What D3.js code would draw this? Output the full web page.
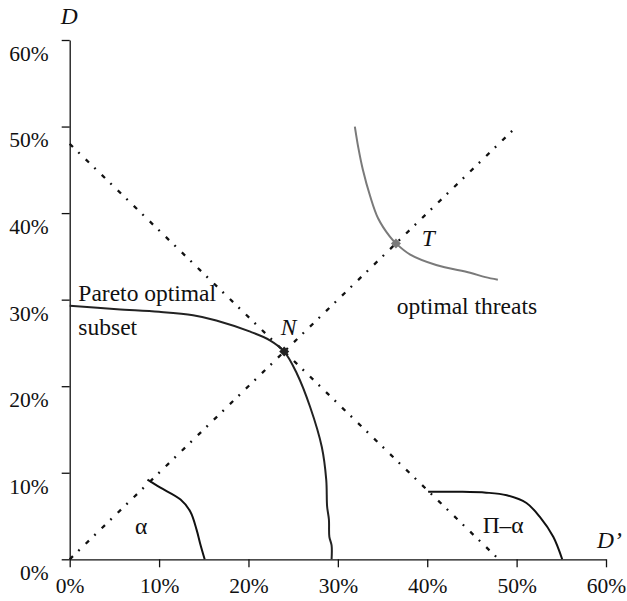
<!DOCTYPE html>
<html>
<head>
<meta charset="utf-8">
<script src="https://cdn.jsdelivr.net/npm/d3@7"></script>
<style>
  html, body { margin: 0; padding: 0; background: #fff; }
  svg { display: block; }
  text { font-family: "Liberation Serif", "Times New Roman", "DejaVu Serif", serif; fill: #111; }
</style>
</head>
<body>
<svg id="chart" width="627" height="601"></svg>
<script>
// ---- data (percent units) ----
const xTicks = [0, 10, 20, 30, 40, 50, 60];
const yTicks = [0, 10, 20, 30, 40, 50, 60];
const tickLabel = d => d + "%";

const diagonal = [[0, 0], [50, 50]];
const antiDiagonal = [[0, 48], [48, 0]];

const alphaCurve = [[8.7, 9.2], [10.1, 8.3], [12.4, 6.9], [13.5, 5.5], [14.2, 3.4], [14.6, 1.8], [15.1, 0]];
const piAlphaCurve = [[40.1, 7.8], [43.5, 7.8], [46.6, 7.7], [48.9, 7.4], [51.1, 6.5], [52.6, 4.9], [54.1, 2.6], [55.1, 0]];
const paretoCurve = [[0, 29.3], [5.3, 28.9], [10, 28.6], [13.8, 28.2], [16.4, 27.6], [20.2, 26.3], [22.4, 25.3], [24, 24],
                     [25.4, 21.5], [26.9, 17.6], [28.2, 13.0], [28.7, 9.2], [28.8, 6.1], [29.0, 4.6], [29.05, 2.6], [29.3, 1.6], [29.3, 0]];
const threatCurve = [[31.9, 50], [32.3, 47.5], [32.8, 45], [33.6, 42], [34.5, 39.4], [35.8, 37.3], [36.5, 36.5],
                     [38.1, 35.2], [41, 34.0], [44.8, 33.1], [46.5, 32.6], [47.9, 32.3]];
const pointN = [24, 24];
const pointT = [36.5, 36.5];

const labels = [
  { text: "Pareto optimal", x: 0.97, y: 29.8, italic: false },
  { text: "subset", x: 0.97, y: 25.9, italic: false },
  { text: "N", x: 23.6, y: 25.9, italic: true },
  { text: "T", x: 39.4, y: 36.2, italic: true },
  { text: "optimal threats", x: 36.6, y: 28.3, italic: false },
  { text: "α", x: 7.3, y: 2.9, italic: false },
  { text: "Π–α", x: 46.2, y: 3.0, italic: false },
  { text: "D’", x: 59.0, y: 1.35, italic: true },
  { text: "D", x: -1.0, y: 61.9, italic: true }
];

// ---- drawing ----
const svg = d3.select("#chart");
const FS = 21.5;
const LFS = 23.5;
const FONT = '"Liberation Serif", "Times New Roman", serif';
const x = d3.scaleLinear().domain([0, 60]).range([69.7, 606]);
const y = d3.scaleLinear().domain([0, 60]).range([559.3, 40]);

const xAxis = svg.append("g").attr("transform", `translate(0,${y(0)})`)
  .call(d3.axisBottom(x).tickValues(xTicks).tickFormat(tickLabel).tickSize(8).tickSizeOuter(0).tickPadding(4));
const yAxis = svg.append("g").attr("transform", `translate(${x(0)},0)`)
  .call(d3.axisLeft(y).tickValues(yTicks).tickFormat(tickLabel).tickSize(8).tickSizeOuter(0).tickPadding(13));

[xAxis, yAxis].forEach(g => {
  g.attr("font-family", null).attr("font-size", null);
  g.select(".domain").attr("stroke", "#111").attr("stroke-width", 1.3);
  g.selectAll(".tick line").attr("stroke", "#111").attr("stroke-width", 1.3);
  g.selectAll("text").style("font-family", FONT).style("font-size", FS + "px").attr("fill", "#111");
});
yAxis.selectAll(".tick text").attr("dy", "0.95em").attr("x", -21);
xAxis.selectAll(".tick text").attr("dy", "1.0em");

const line = d3.line().x(d => x(d[0])).y(d => y(d[1]));
const smooth = d3.line().x(d => x(d[0])).y(d => y(d[1])).curve(d3.curveCatmullRom.alpha(0.5));

[diagonal, antiDiagonal].forEach(dl => {
  svg.append("path").attr("d", line(dl))
    .attr("fill", "none").attr("stroke", "#111").attr("stroke-width", 2.3)
    .attr("stroke-dasharray", "4.5,7.5,1.8,8.5").attr("stroke-linecap", "butt");
});

[[alphaCurve, "#111"], [piAlphaCurve, "#111"], [paretoCurve, "#222"], [threatCurve, "#7a7a7a"]].forEach(([c, col]) => {
  svg.append("path").attr("d", smooth(c))
    .attr("fill", "none").attr("stroke", col).attr("stroke-width", 2);
});

const diamond = d3.symbol().type(d3.symbolDiamond2).size(64);
[[pointN, "#222"], [pointT, "#7a7a7a"]].forEach(([p, col]) => {
  svg.append("path").attr("d", diamond())
    .attr("transform", `translate(${x(p[0])},${y(p[1])})`)
    .attr("fill", col);
});

svg.selectAll("text.lab").data(labels).enter().append("text")
  .attr("class", "lab")
  .attr("x", d => x(d.x)).attr("y", d => y(d.y))
  .style("font-family", FONT)
  .style("font-size", LFS + "px")
  .style("font-style", d => d.italic ? "italic" : "normal")
  .text(d => d.text);
</script>
</body>
</html>
